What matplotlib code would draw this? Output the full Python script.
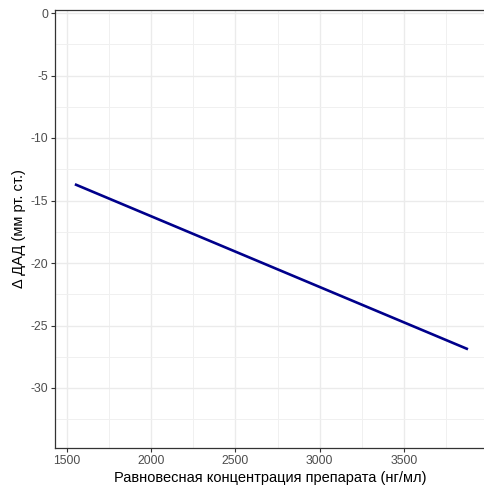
import matplotlib
matplotlib.use("Agg")
import matplotlib.pyplot as plt
from matplotlib.ticker import MultipleLocator

plt.rcParams["font.family"] = ["Liberation Sans", "DejaVu Sans"]
plt.rcParams["axes.unicode_minus"] = False

# значения
concentration = [1547, 3880]
delta_dad = [-13.7, -26.9]
x_ticks = [1500, 2000, 2500, 3000, 3500]
y_ticks = [0, -5, -10, -15, -20, -25, -30]

fig = plt.figure(figsize=(4.85, 4.88), dpi=100)
ax = fig.add_axes([55 / 485, 40 / 488, 1 - 55 / 485, (448 - 9.5) / 488])

ax.plot(concentration, delta_dad, color="#00008B", linewidth=1.9, solid_capstyle="butt")

ax.set_xlim(1429, 3981)
ax.set_ylim(-34.8, 0.28)
ax.set_xticks(x_ticks)
ax.set_yticks(y_ticks)
ax.xaxis.set_minor_locator(MultipleLocator(250))
ax.yaxis.set_minor_locator(MultipleLocator(2.5))

ax.grid(which="major", color="#ebebeb", linewidth=1.0)
ax.grid(which="minor", color="#f0f0f0", linewidth=0.7)
ax.set_axisbelow(True)

ax.tick_params(which="major", length=3, width=0.8, color="#333333",
               labelcolor="#4d4d4d", labelsize=8.8, pad=2)
ax.tick_params(which="minor", length=0)

for side in ["left", "bottom", "top"]:
    ax.spines[side].set_color("#333333")
    ax.spines[side].set_linewidth(0.9)
ax.spines["right"].set_visible(False)

ax.set_xlabel("Равновесная концентрация препарата (нг/мл)", fontsize=10.5, labelpad=3)
ax.set_ylabel("Δ ДАД (мм рт. ст.)", fontsize=10.5, labelpad=3)

fig.savefig("out.png", dpi=100)
